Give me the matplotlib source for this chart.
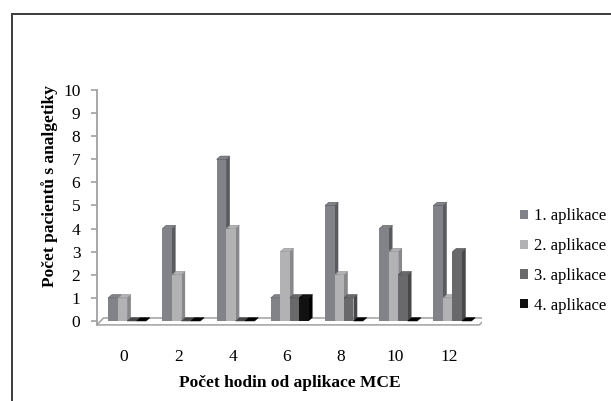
import matplotlib
matplotlib.use("Agg")
import matplotlib.pyplot as plt
from matplotlib.patches import Polygon, Rectangle, Patch
import numpy as np

# data
hodiny = ["0", "2", "4", "6", "8", "10", "12"]
serie = ["1. aplikace", "2. aplikace", "3. aplikace", "4. aplikace"]
aplikace1 = [1, 4, 7, 1, 5, 4, 5]
aplikace2 = [1, 2, 4, 3, 2, 3, 1]
aplikace3 = [0, 0, 0, 1, 1, 2, 3]
aplikace4 = [0, 0, 0, 1, 0, 0, 0]
hodnoty = [aplikace1, aplikace2, aplikace3, aplikace4]

barvy = ["#828388", "#b2b2b4", "#69696c", "#111111"]
boky = ["#5a5b5f", "#88888b", "#48484a", "#000000"]

plt.rcParams["font.family"] = ["Liberation Serif", "DejaVu Serif"]

W, H = 611, 401
fig = plt.figure(figsize=(W / 100, H / 100), dpi=100)

# axes placement in pixels
x0, x1 = 97, 482
y_top, y_bot = 90, 325.6
ax = fig.add_axes([x0 / W, 1 - y_bot / H, (x1 - x0) / W, (y_bot - y_top) / H])
ax.set_xlim(-0.5, 6.6)
ax.set_ylim(-0.2, 10)

sirka = 0.175
dx, dy = 0.07, 0.14
x = np.arange(len(hodiny))

# floor
podlaha = Polygon([(-0.5, -0.17), (6.55, -0.17), (6.68, 0.13), (-0.38, 0.13)],
                  closed=True, facecolor="white", edgecolor="#a8a8a8", lw=1.2, zorder=1)
ax.add_patch(podlaha)

for k, vals in enumerate(hodnoty):
    z = 2 + k
    left = x - 0.295 + k * sirka
    ax.bar(left, vals, width=sirka, align="edge", color=barvy[k],
           edgecolor="none", zorder=z + 0.5)
    for l, v in zip(left, vals):
        r = l + sirka
        # side face
        ax.add_patch(Polygon([(r, 0), (r + dx, dy), (r + dx, v + dy), (r, v)],
                             closed=True, facecolor=boky[k], edgecolor="none", zorder=z))
        # top face
        ax.add_patch(Polygon([(l, v), (l + dx, v + dy), (r + dx, v + dy), (r, v)],
                             closed=True, facecolor=boky[k] if v == 0 else barvy[k],
                             edgecolor=boky[k], lw=0.4, zorder=z + 0.6))

for s in ["top", "right", "bottom"]:
    ax.spines[s].set_visible(False)
ax.spines["left"].set_color("#a0a0a0")
ax.spines["left"].set_linewidth(1.3)
ax.spines["left"].set_bounds(-0.17, 10)
ax.set_yticks(range(0, 11))
ax.tick_params(axis="y", colors="#a0a0a0", length=4, width=1.2, pad=8,
               labelcolor="black", labelsize=12.5)
ax.set_xticks(x)
ax.set_xticklabels(hodiny)
ax.tick_params(axis="x", length=0, pad=17, labelsize=12.5)
ax.patch.set_visible(False)

fig.text(50 / W, 1 - 186 / H, "Počet pacientů s analgetiky", rotation=90,
         ha="center", va="center", fontsize=12.5, fontweight="bold")
fig.text(290 / W, 1 - 383 / H, "Počet hodin od aplikace MCE",
         ha="center", va="center", fontsize=12.5, fontweight="bold")

handles = [Patch(facecolor=barvy[k], edgecolor="none") for k in range(4)]
fig.legend(handles, serie, loc="center left", bbox_to_anchor=(505 / W, 1 - 261 / H),
           frameon=False, fontsize=12, handlelength=0.5, handleheight=0.5,
           handletextpad=0.35, labelspacing=0.82)

# outer frame (cut at the right and bottom like the original)
fig.patches.append(Rectangle((12 / W, -0.1), 1.2, 1 - 14 / H + 0.1,
                             transform=fig.transFigure, fill=False,
                             edgecolor="#3c3c3c", lw=1.4))

fig.savefig("out.png", dpi=100)
